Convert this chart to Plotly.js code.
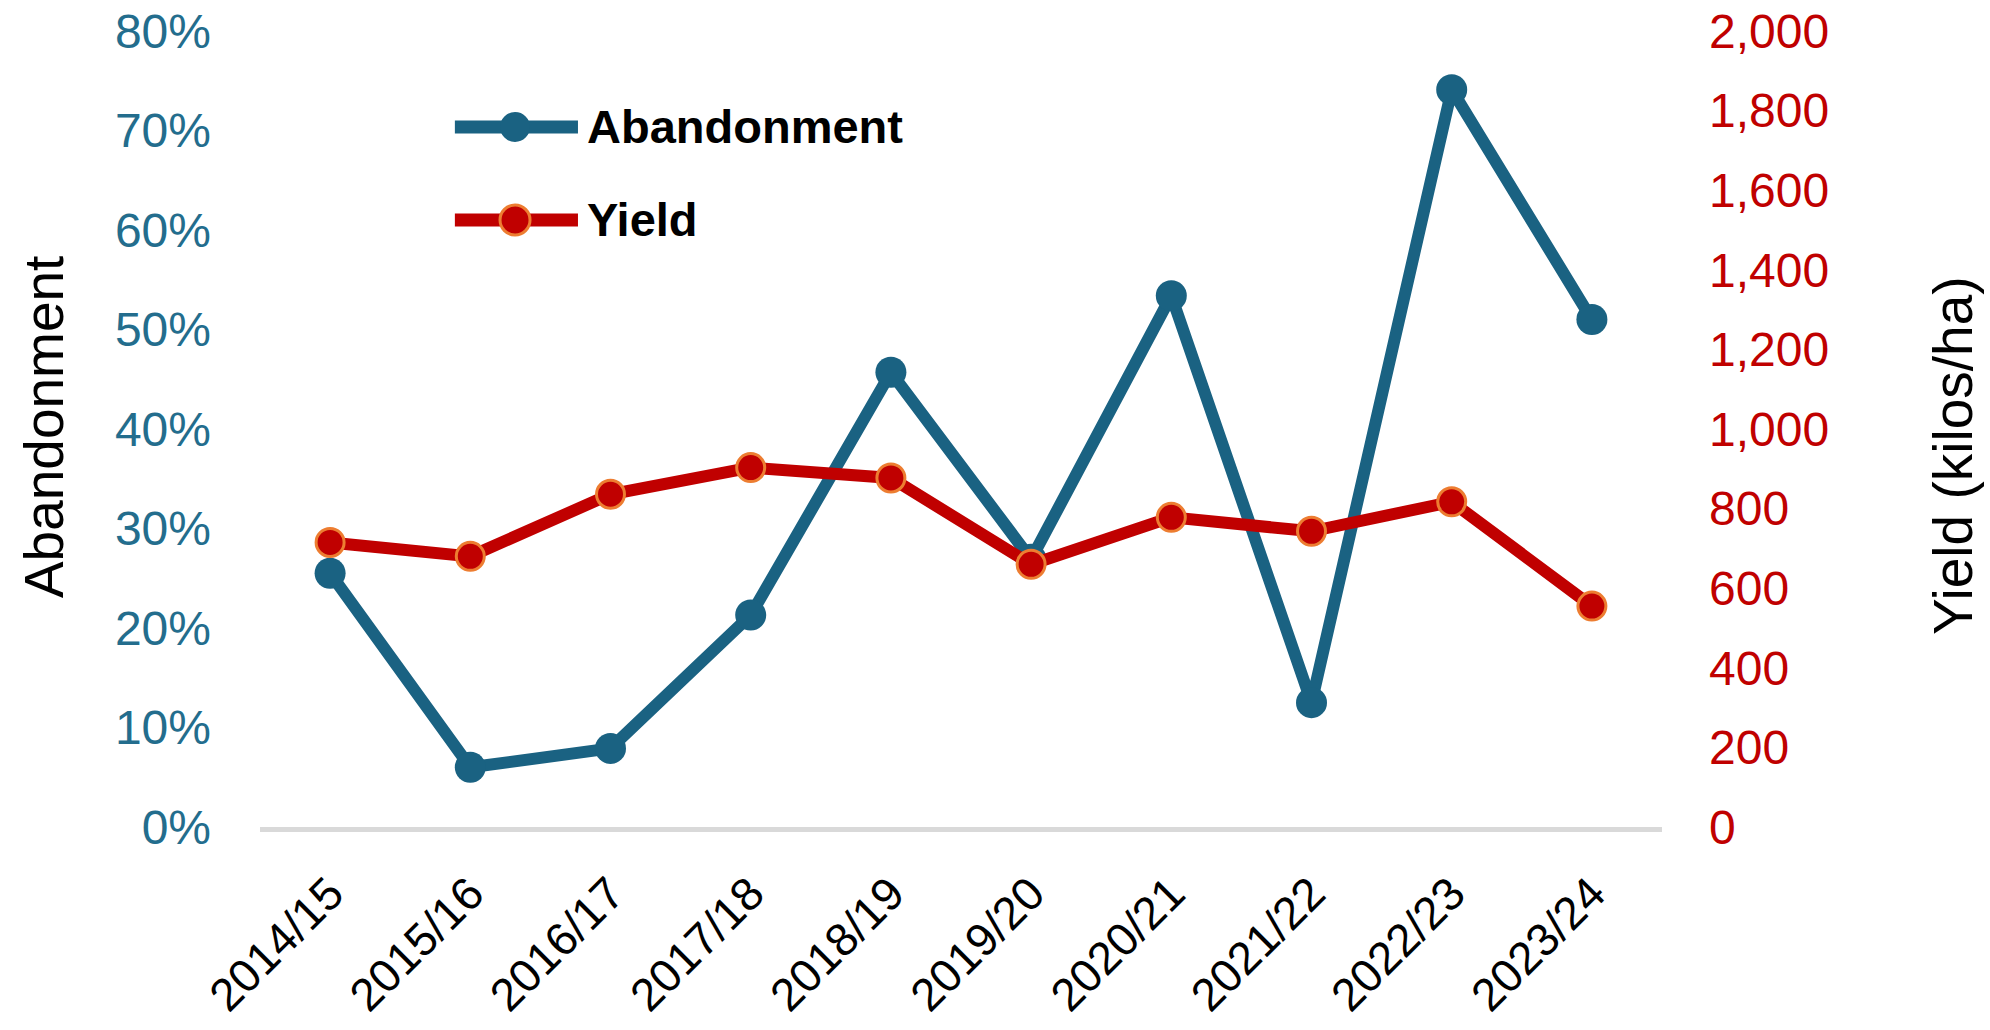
<!DOCTYPE html>
<html>
<head>
<meta charset="utf-8">
<script src="https://cdn.plot.ly/plotly-3.0.1.min.js"></script>
<style>
  html, body { margin: 0; padding: 0; background: #ffffff; }
  #chart { width: 1990px; height: 1030px; }
</style>
</head>
<body>
<div id="chart"></div>
<script>
const seasons = ["2014/15", "2015/16", "2016/17", "2017/18", "2018/19", "2019/20", "2020/21", "2021/22", "2022/23", "2023/24"];
const abandonment = [0.255, 0.060, 0.079, 0.213, 0.457, 0.269, 0.534, 0.125, 0.741, 0.510];
const yieldKg = [715, 680, 836, 903, 877, 660, 778, 743, 817, 555];
const leftTicks = [0, 0.1, 0.2, 0.3, 0.4, 0.5, 0.6, 0.7, 0.8];
const rightTicks = [0, 200, 400, 600, 800, 1000, 1200, 1400, 1600, 1800, 2000];
const seriesNames = ["Abandonment", "Yield"];
const titles = { left: "Abandonment", right: "Yield (kilos/ha)" };

const BLUE = "#1a6282";
const BLUE_TICK = "#236d8d";
const RED = "#c00000";
const ORANGE = "#ed7d31";
const FONT = "Liberation Sans, Arial, sans-serif";

const traces = [
  {
    x: seasons, y: abandonment, name: seriesNames[0], type: "scatter", mode: "lines+markers",
    line: { color: BLUE, width: 12 },
    marker: { color: BLUE, size: 31, line: { color: BLUE, width: 0 } },
    xaxis: "x", yaxis: "y", showlegend: false, hoverinfo: "x+y"
  },
  {
    x: seasons, y: yieldKg, name: seriesNames[1], type: "scatter", mode: "lines+markers",
    line: { color: RED, width: 12 },
    marker: { color: RED, size: 28, line: { color: ORANGE, width: 3 } },
    xaxis: "x", yaxis: "y2", showlegend: false, hoverinfo: "x+y"
  }
];

// custom legend (paper coordinates)
const legY = [0.8794, 0.7626];
const legX0 = 0.139, legX1 = 0.2268, legXm = 0.1819, legXt = 0.2318;
const legColors = [BLUE, RED];
const legMarkerLine = [BLUE, ORANGE];
const shapes = [];
const annotations = [];
for (let i = 0; i < 2; i++) {
  shapes.push({ type: "line", xref: "paper", yref: "paper", x0: legX0, x1: legX1, y0: legY[i], y1: legY[i],
    line: { color: legColors[i], width: 13 } });
  shapes.push({ type: "circle", xref: "paper", yref: "paper", xsizemode: "pixel", ysizemode: "pixel",
    xanchor: legXm, yanchor: legY[i], x0: -15, x1: 15, y0: -15, y1: 15,
    fillcolor: legColors[i], line: { color: legMarkerLine[i], width: i === 0 ? 0 : 3 } });
  annotations.push({ xref: "paper", yref: "paper", x: legXt, y: legY[i], xanchor: "left", yanchor: "middle",
    text: seriesNames[i], showarrow: false, font: { family: FONT, size: 47, color: "#000000", weight: "bold" } });
}
annotations.push({ xref: "paper", yref: "paper", x: -0.154, y: 0.5025, xanchor: "center", yanchor: "middle",
  text: titles.left, textangle: -90, showarrow: false, font: { family: FONT, size: 55, color: "#000000" } });
annotations.push({ xref: "paper", yref: "paper", x: 1.2076, y: 0.466, xanchor: "center", yanchor: "middle",
  text: titles.right, textangle: -90, showarrow: false, font: { family: FONT, size: 55, color: "#000000" } });

const layout = {
  width: 1990, height: 1030,
  margin: { l: 260, r: 328, t: 31, b: 203, pad: 0 },
  paper_bgcolor: "#ffffff", plot_bgcolor: "#ffffff",
  showlegend: false,
  font: { family: FONT },
  xaxis: {
    type: "category", range: [-0.5, 9.5], showgrid: false, zeroline: false,
    showline: true, linecolor: "#d9d9d9", linewidth: 5,
    ticks: "", tickangle: -45, ticklabelstandoff: 16,
    tickfont: { family: FONT, size: 46, color: "#000000" }
  },
  yaxis: {
    range: [0, 0.8], tickvals: leftTicks, tickformat: ".0%", showgrid: false, zeroline: false,
    showline: false, ticks: "", ticklabelstandoff: 48,
    tickfont: { family: FONT, size: 48, color: BLUE_TICK }
  },
  yaxis2: {
    range: [0, 2000], tickvals: rightTicks, tickformat: ",d", overlaying: "y", side: "right",
    showgrid: false, zeroline: false, showline: false, ticks: "", ticklabelstandoff: 46,
    tickfont: { family: FONT, size: 48, color: RED }
  },
  shapes: shapes,
  annotations: annotations
};

Plotly.newPlot("chart", traces, layout, { displayModeBar: false, staticPlot: true });
</script>
</body>
</html>
